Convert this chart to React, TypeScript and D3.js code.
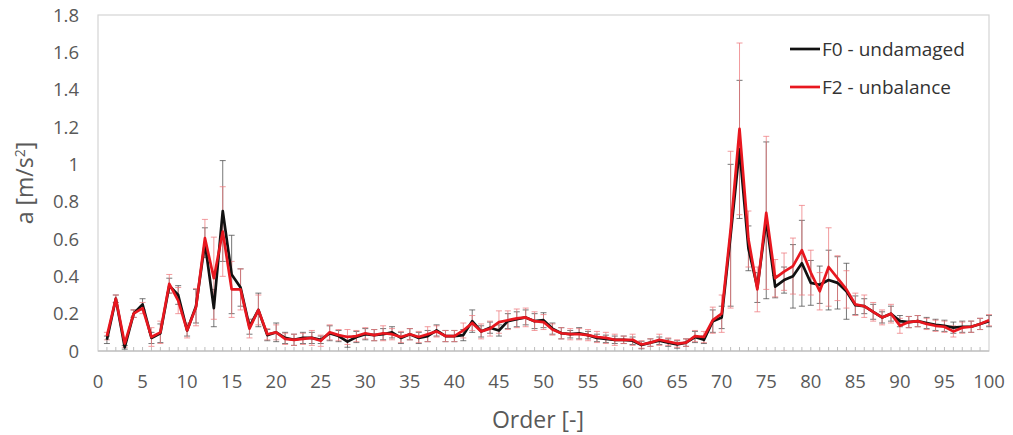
import React from "react";
import * as d3 from "d3";

// Order numbers 1..100
const orders: number[] = Array.from({ length: 100 }, (_, i) => i + 1);

// Mean acceleration per order, F0 - undamaged
const f0Mean: number[] = [
  0.06, 0.28, 0.02, 0.2, 0.25, 0.07, 0.095, 0.35, 0.3, 0.11,
  0.24, 0.58, 0.23, 0.75, 0.41, 0.34, 0.13, 0.22, 0.085, 0.1,
  0.07, 0.06, 0.07, 0.07, 0.06, 0.095, 0.08, 0.05, 0.075, 0.09,
  0.085, 0.09, 0.1, 0.07, 0.09, 0.07, 0.08, 0.11, 0.08, 0.08,
  0.085, 0.16, 0.105, 0.125, 0.11, 0.16, 0.17, 0.18, 0.16, 0.165,
  0.12, 0.095, 0.09, 0.095, 0.085, 0.07, 0.065, 0.06, 0.06, 0.055,
  0.032, 0.045, 0.055, 0.045, 0.035, 0.045, 0.075, 0.06, 0.16, 0.18,
  0.62, 1.08, 0.55, 0.34, 0.7, 0.345, 0.38, 0.4, 0.47, 0.365,
  0.355, 0.38, 0.365, 0.32, 0.245, 0.24, 0.21, 0.18, 0.2, 0.16,
  0.155, 0.16, 0.15, 0.14, 0.135, 0.125, 0.13, 0.13, 0.145, 0.16,
];

// Standard deviation per order, F0
const f0Err: number[] = [
  0.02, 0.02, 0.01, 0.02, 0.03, 0.03, 0.05, 0.04, 0.05, 0.03,
  0.09, 0.08, 0.1, 0.27, 0.21, 0.1, 0.04, 0.09, 0.03, 0.05,
  0.03, 0.03, 0.03, 0.03, 0.02, 0.04, 0.03, 0.03, 0.03, 0.03,
  0.03, 0.03, 0.03, 0.03, 0.03, 0.03, 0.03, 0.03, 0.03, 0.03,
  0.03, 0.06, 0.03, 0.03, 0.03, 0.04, 0.04, 0.04, 0.04, 0.04,
  0.03, 0.03, 0.02, 0.03, 0.02, 0.02, 0.02, 0.02, 0.02, 0.02,
  0.02, 0.02, 0.02, 0.02, 0.02, 0.02, 0.03, 0.02, 0.06, 0.06,
  0.38, 0.37, 0.12, 0.08, 0.42, 0.06, 0.07, 0.17, 0.23, 0.12,
  0.1, 0.16, 0.14, 0.15, 0.05, 0.04, 0.04, 0.03, 0.04, 0.03,
  0.03, 0.03, 0.03, 0.03, 0.03, 0.03, 0.03, 0.03, 0.03, 0.03,
];

// Mean acceleration per order, F2 - unbalance
const f2Mean: number[] = [
  0.08, 0.28, 0.04, 0.2, 0.23, 0.075, 0.1, 0.36, 0.27, 0.11,
  0.235, 0.605, 0.39, 0.64, 0.33, 0.33, 0.12, 0.22, 0.09, 0.1,
  0.065, 0.06, 0.065, 0.07, 0.055, 0.1, 0.085, 0.075, 0.08, 0.095,
  0.085, 0.095, 0.09, 0.075, 0.09, 0.075, 0.09, 0.105, 0.08, 0.08,
  0.11, 0.15, 0.105, 0.12, 0.155, 0.165, 0.175, 0.18, 0.16, 0.155,
  0.115, 0.095, 0.09, 0.09, 0.085, 0.075, 0.07, 0.06, 0.06, 0.06,
  0.035, 0.045, 0.06, 0.05, 0.04, 0.045, 0.08, 0.075, 0.165, 0.2,
  0.65, 1.19, 0.6, 0.33, 0.74, 0.39, 0.425, 0.455, 0.54, 0.42,
  0.32, 0.45, 0.39, 0.33, 0.25, 0.24, 0.21, 0.18, 0.2, 0.135,
  0.155, 0.16, 0.145, 0.135, 0.13, 0.105, 0.125, 0.13, 0.145, 0.165,
];

// Standard deviation per order, F2
const f2Err: number[] = [
  0.02, 0.02, 0.02, 0.02, 0.03, 0.05, 0.06, 0.05, 0.07, 0.04,
  0.1, 0.1, 0.22, 0.24, 0.15, 0.11, 0.05, 0.08, 0.03, 0.04,
  0.03, 0.03, 0.03, 0.04, 0.03, 0.04, 0.03, 0.04, 0.03, 0.03,
  0.03, 0.04, 0.03, 0.03, 0.03, 0.03, 0.04, 0.03, 0.03, 0.03,
  0.04, 0.04, 0.04, 0.04, 0.06, 0.05, 0.05, 0.05, 0.05, 0.04,
  0.03, 0.03, 0.03, 0.03, 0.03, 0.03, 0.03, 0.03, 0.02, 0.03,
  0.02, 0.02, 0.03, 0.02, 0.02, 0.02, 0.03, 0.03, 0.07, 0.1,
  0.42, 0.46, 0.15, 0.12, 0.41, 0.1, 0.1, 0.15, 0.24, 0.12,
  0.1, 0.21, 0.12, 0.1, 0.06, 0.06, 0.05, 0.04, 0.05, 0.04,
  0.03, 0.03, 0.03, 0.03, 0.03, 0.03, 0.03, 0.03, 0.03, 0.03,
];

const xTicks: number[] = d3.range(0, 101, 5);
const yTicks: number[] = [0, 0.2, 0.4, 0.6, 0.8, 1, 1.2, 1.4, 1.6, 1.8];

const seriesNames: string[] = ["F0 - undamaged", "F2 - unbalance"];

const W = 1013;
const H = 435;
const FONT = "'Open Sans', sans-serif";

export default function App() {
  const x = d3.scaleLinear().domain([0, 100]).range([98, 989]);
  const y = d3.scaleLinear().domain([0, 1.8]).range([351, 15]);

  const line = d3
    .line<number>()
    .x((_, i) => x(orders[i]))
    .y((d) => y(d));

  const series = [
    { name: seriesNames[0], mean: f0Mean, err: f0Err, color: "#111111", errColor: "#4a4a4a", errOpacity: 0.75 },
    { name: seriesNames[1], mean: f2Mean, err: f2Err, color: "#e8171f", errColor: "#ee7a7e", errOpacity: 0.75 },
  ];

  const [x0, x1] = x.range();
  const [yb, yt] = y.range();

  return (
    <svg
      width={W}
      height={H}
      viewBox={`0 0 ${W} ${H}`}
      style={{ position: "absolute", left: 0, top: 0, background: "#fff" }}
      fontFamily={FONT}
    >
      {/* plot frame */}
      <rect x={x0} y={yt} width={x1 - x0} height={yb - yt} fill="none" stroke="#d4d4d4" strokeWidth={1.2} />
      <line x1={x0} x2={x1} y1={yb} y2={yb} stroke="#c4c4c4" strokeWidth={1.3} />

      {/* minor ticks on the order axis */}
      {d3.range(1, 100).map((t) => (
        <line key={`mt${t}`} x1={x(t)} x2={x(t)} y1={yb} y2={yb - 4} stroke="#bdbdbd" strokeWidth={1} />
      ))}

      {/* y tick labels */}
      {yTicks.map((t) => (
        <text key={`yt${t}`} x={79} y={y(t) + 6.5} textAnchor="end" fontSize={18.5} fill="#595959">
          {d3.format("")(t)}
        </text>
      ))}

      {/* x tick labels */}
      {xTicks.map((t) => (
        <text key={`xt${t}`} x={x(t)} y={388} textAnchor="middle" fontSize={18.5} fill="#595959">
          {t}
        </text>
      ))}

      {/* axis titles */}
      <text x={538} y={428} textAnchor="middle" fontSize={23} fill="#595959">
        Order [-]
      </text>
      <text transform={`translate(33, 183) rotate(-90)`} textAnchor="middle" fontSize={23} fill="#595959">
        a [m/s<tspan dy={-8} fontSize={14}>2</tspan>
        <tspan dy={8}>]</tspan>
      </text>

      {/* error bars */}
      {series.map((s, si) => (
        <g key={`eb${si}`} stroke={s.errColor} strokeOpacity={s.errOpacity} strokeWidth={1}>
          {s.mean.map((m, i) => {
            const cx = x(orders[i]);
            const top = y(m + s.err[i]);
            const bot = y(Math.max(0, m - s.err[i]));
            return (
              <g key={i}>
                <line x1={cx} x2={cx} y1={top} y2={bot} />
                <line x1={cx - 3} x2={cx + 3} y1={top} y2={top} />
                <line x1={cx - 3} x2={cx + 3} y1={bot} y2={bot} />
              </g>
            );
          })}
        </g>
      ))}

      {/* mean lines */}
      {series.map((s, si) => (
        <path
          key={`ln${si}`}
          d={line(s.mean) || ""}
          fill="none"
          stroke={s.color}
          strokeWidth={2.7}
          strokeLinejoin="round"
        />
      ))}

      {/* legend */}
      {series.map((s, si) => (
        <g key={`lg${si}`} transform={`translate(0, ${49 + si * 38})`}>
          <line x1={790} x2={820} y1={0} y2={0} stroke={s.color} strokeWidth={2.7} />
          <text x={822} y={7} fontSize={19} fill="#333333">
            {s.name}
          </text>
        </g>
      ))}
    </svg>
  );
}
